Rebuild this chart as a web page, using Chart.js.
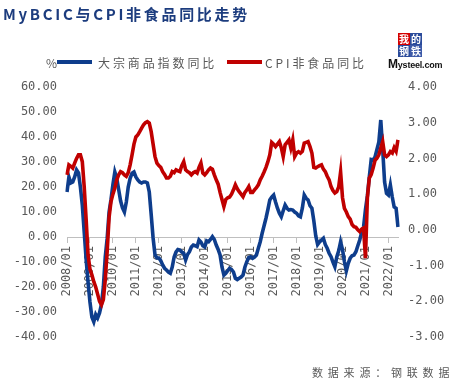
<!DOCTYPE html>
<html>
<head>
<meta charset="utf-8">
<script src="https://cdn.jsdelivr.net/npm/chart.js@4/dist/chart.umd.min.js"></script>
<style>
html,body{margin:0;padding:0;background:#fff;}
#wrap{position:relative;width:458px;height:385px;overflow:hidden;background:#fff;}
canvas{position:absolute;left:0;top:0;}
.t{position:absolute;white-space:nowrap;font-family:"Noto Sans CJK SC","Noto Sans",sans-serif;}
#title{left:3px;top:4px;font-size:15px;line-height:20px;font-weight:bold;color:#1c3c7e;letter-spacing:2.7px;}
.lg{top:55px;font-size:12px;line-height:15px;color:#595959;letter-spacing:2.9px;}
.ln{position:absolute;height:4px;top:60px;}
#src{left:312px;top:365px;font-size:11px;line-height:15px;color:#595959;letter-spacing:4.8px;}
.lb{position:absolute;width:12px;height:12px;font-size:10px;line-height:12px;text-align:center;color:#fff;font-family:"Noto Sans CJK SC",sans-serif;font-weight:bold;}
#ms{left:388px;top:57px;font-family:"Liberation Sans",Arial,sans-serif;font-size:9px;font-weight:bold;color:#111;letter-spacing:-0.2px;}
</style>
</head>
<body>
<div id="wrap">
<canvas id="c" width="458" height="385"></canvas>
<div class="t" id="title">MyBCIC与CPI非食品同比走势</div>
<div class="t lg" style="left:46px;letter-spacing:0">%</div>
<div class="ln" style="left:57px;width:35px;background:#0e3d8c"></div>
<div class="t lg" style="left:98px">大宗商品指数同比</div>
<div class="ln" style="left:227px;width:35px;background:#c00000"></div>
<div class="t lg" style="left:265px">CPI非食品同比</div>
<div class="lb" style="left:398px;top:33px;background:#d40000">我</div>
<div class="lb" style="left:410px;top:33px;background:#2b4b9b">的</div>
<div class="lb" style="left:398px;top:45px;background:#2b4b9b">钢</div>
<div class="lb" style="left:410px;top:45px;background:#3d5aa8">铁</div>
<div class="t" id="ms"><span style="font-size:12px">M</span>ysteel.com</div>
<div class="t" id="src">数据来源：钢联数据</div>
</div>
<script>
// Category years (monthly data 2008/01 - 2022/06)
const years = [2008,2009,2010,2011,2012,2013,2014,2015,2016,2017,2018,2019,2020,2021,2022];
const lastYearMonths = 6;

// 大宗商品指数同比 (%), left axis
const commodityYoY = [
  18, 24, 21.6, 22, 24, 26.8, 25.6, 20, 12.8, 2, -9, -18,
  -26, -32, -33.9, -31, -32.4, -30.4, -27, -20, -8, -0.5, 10, 15,
  21, 26, 23.5, 19, 14.5, 11.6, 10, 14, 20, 23.5, 25.5, 26,
  24, 22.8, 22, 21.6, 22, 22, 21.6, 18, 9, -0.4, -7.2, -8.4,
  -8.4, -9.5, -11.2, -12.5, -13.2, -14, -14.5, -12, -8, -6, -5, -5.2,
  -6, -6.5, -9.2, -7, -5.9, -4, -3.2, -3.5, -3.9, -1.2, -2, -3.5,
  -4, -1.5, -1.9, -1, 0.1, -1, -3.2, -5, -7.2, -12, -15.2, -14.5,
  -13.5, -12.5, -13, -14, -16.5, -17, -16.5, -16, -15.2, -12, -9.9, -8.2,
  -7.9, -8.5, -8, -7.2, -4.5, -1.9, 1.5, 4.5, 7.5, 11, 14.8, 16,
  16.8, 14, 11.5, 9.5, 8.1, 10.5, 12.8, 11.5, 10.8, 11, 10.8, 10,
  9.5, 8.5, 8.1, 11.5, 16.8, 15.5, 14.8, 12.5, 11.5, 6.5, 0.5, -3,
  -2, -1.2, -0.5, -3, -4.5, -6.5, -7.9, -10, -11.9, -8, -5.5, -1.9,
  -5, -9.9, -13.5, -10.5, -8.5, -7.5, -7.2, -5.9, -3.5, -1.2, 1.8, 4,
  11, 16.5, 24, 31, 30.8, 32, 35, 38, 46.8, 35, 22, 17.5,
  16.8, 20.8, 16, 12, 11.5, 4
];

// CPI非食品同比 (%), right axis
const cpiNonFoodYoY = [
  1.54, 1.82, 1.78, 1.73, 1.87, 2.0, 2.1, 2.1, 1.91, 1.2, 0.3, -0.7,
  -1.1, -1.26, -1.45, -1.6, -1.8, -2.0, -2.1, -1.95, -1.4, -0.6, 0.35, 0.79,
  1.0, 1.17, 1.4, 1.54, 1.63, 1.6, 1.54, 1.5, 1.6, 1.82, 2.1, 2.4,
  2.6, 2.66, 2.75, 2.85, 2.94, 3.0, 3.03, 2.99, 2.75, 2.4, 2.05, 1.87,
  1.8, 1.75, 1.63, 1.55, 1.45, 1.45, 1.5, 1.63, 1.6, 1.68, 1.65, 1.63,
  1.8, 1.91, 1.68, 1.63, 1.6, 1.54, 1.6, 1.63, 1.59, 1.75, 1.87, 1.59,
  1.54, 1.6, 1.68, 1.73, 1.7, 1.54, 1.4, 1.28, 1.05, 0.85, 0.65, 0.85,
  0.9, 0.92, 1.0, 1.12, 1.26, 1.15, 1.07, 1.0, 0.93, 1.05, 1.12, 1.21,
  1.05, 1.05, 1.12, 1.18, 1.26, 1.4, 1.5, 1.62, 1.75, 1.91, 2.1, 2.45,
  2.4, 2.33, 2.4, 2.47, 2.3, 2.05, 2.38, 2.45, 2.52, 2.29, 2.52, 2.05,
  2.15, 2.19, 2.15, 2.2, 2.43, 2.45, 2.47, 2.33, 2.15, 1.75, 1.73, 1.77,
  1.8, 1.82, 1.7, 1.63, 1.5, 1.4, 1.21, 1.1, 1.03, 1.07, 1.2, 1.62,
  0.9, 0.6, 0.5, 0.37, 0.3, 0.15, 0.09, 0.07, 0.0, -0.05, 0.02, 0.05,
  -0.79, 0.9, 1.45, 1.55, 1.73, 1.95, 2.01, 2.1, 2.29, 2.47, 2.1, 2.05,
  2.1, 2.19, 2.15, 2.3, 2.2, 2.52
];

const leftTicks = { min: -40, max: 60, step: 10 };
const rightTicks = { min: -3, max: 4, step: 1 };

const labels = [];
years.forEach((y, i) => {
  const n = (i === years.length - 1) ? lastYearMonths : 12;
  for (let m = 1; m <= n; m++) labels.push(y + '/' + String(m).padStart(2, '0'));
});

const tickFont = { family: '"DejaVu Sans Mono", monospace', size: 12 };
const gray = '#595959';

new Chart(document.getElementById('c'), {
  type: 'line',
  data: {
    labels: labels,
    datasets: [
      {
        label: '大宗商品指数同比',
        data: commodityYoY,
        yAxisID: 'y',
        borderColor: '#0e3d8c',
        backgroundColor: '#0e3d8c',
        borderWidth: 3.6,
        pointRadius: 0,
        tension: 0,
        order: 1
      },
      {
        label: 'CPI非食品同比',
        data: cpiNonFoodYoY,
        yAxisID: 'y1',
        borderColor: '#c00000',
        backgroundColor: '#c00000',
        borderWidth: 3.6,
        pointRadius: 0,
        tension: 0,
        order: 0
      }
    ]
  },
  options: {
    responsive: false,
    animation: false,
    layout: { padding: { top: 87, left: 0, right: 0, bottom: 48 } },
    plugins: { legend: { display: false }, tooltip: { enabled: false } },
    scales: {
      x: {
        type: 'category',
        position: { y: 0 },
        offset: false,
        afterFit: (s) => { s.height = 0; },
        border: { display: true, color: '#bfbfbf', width: 1 },
        grid: { drawOnChartArea: false, drawTicks: true, tickLength: 5, color: '#bfbfbf' },
        ticks: {
          autoSkip: false,
          maxRotation: 90,
          minRotation: 90,
          padding: 4,
          color: gray,
          font: tickFont,
          callback: function (v, i) {
            const l = labels[i];
            return l.endsWith('/01') ? l : null;
          }
        }
      },
      y: {
        position: 'left',
        min: leftTicks.min,
        max: leftTicks.max,
        afterFit: (s) => { s.width = 67; },
        border: { display: false },
        grid: { display: false, drawTicks: false },
        ticks: {
          stepSize: leftTicks.step,
          padding: 10,
          color: gray,
          font: tickFont,
          callback: (v) => Number(v).toFixed(2)
        }
      },
      y1: {
        position: 'right',
        min: rightTicks.min,
        max: rightTicks.max,
        afterFit: (s) => { s.width = 60; },
        border: { display: false },
        grid: { display: false, drawTicks: false },
        ticks: {
          stepSize: rightTicks.step,
          padding: 10,
          color: gray,
          font: tickFont,
          callback: (v) => Number(v).toFixed(2)
        }
      }
    }
  }
});
</script>
</body>
</html>
